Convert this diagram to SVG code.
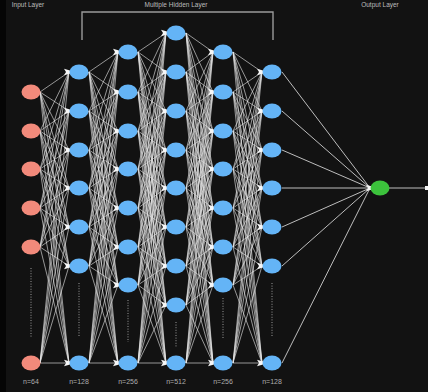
<svg xmlns="http://www.w3.org/2000/svg" xmlns:xlink="http://www.w3.org/1999/xlink" width="428" height="392" viewBox="0 0 428 392">
<style>
.e{stroke:#e6e6e6;stroke-width:1;stroke-opacity:0.62;fill:none}
.eo{stroke:#bdbdbd;stroke-width:1;fill:none}
.in{fill:#f28a7b}
.h{fill:#64b4f6}
.out{fill:#3cc23c}
.dot{stroke:#9a9a9a;stroke-width:1;stroke-dasharray:1 1.6}
.t{font-family:"Liberation Sans",Arial,sans-serif;font-size:6.5px;fill:#bdbdbd;text-anchor:middle}
.n{font-family:"Liberation Sans",Arial,sans-serif;font-size:7px;fill:#adadad;text-anchor:middle}
</style>
<defs>
<path id="ah" d="M-6,-3.2L0,-1.6V1.6L-6,3.2L-4,0Z" fill="#f6f6f6"/>
</defs>
<rect width="428" height="392" fill="#121212"/>
<rect width="6" height="392" fill="#050505"/>
<text class="t" x="28" y="7">Input Layer</text>
<text class="t" x="176" y="7">Multiple Hidden Layer</text>
<text class="t" x="380" y="7">Output Layer</text>
<path d="M82 40V12H273V40" fill="none" stroke="#9a9a9a" stroke-width="1.4"/>
<g id="connectors">
<path class="e" d="M40 92L69 72M40 92L69 111M40 92L69 150M40 92L69 188M40 92L69 227M40 92L69 266M40 92L69 363M40 131L69 72M40 131L69 111M40 131L69 150M40 131L69 188M40 131L69 227M40 131L69 266M40 131L69 363M40 169L69 72M40 169L69 111M40 169L69 150M40 169L69 188M40 169L69 227M40 169L69 266M40 169L69 363M40 208L69 72M40 208L69 111M40 208L69 150M40 208L69 188M40 208L69 227M40 208L69 266M40 208L69 363M40 247L69 72M40 247L69 111M40 247L69 150M40 247L69 188M40 247L69 227M40 247L69 266M40 247L69 363M40 363L69 72M40 363L69 111M40 363L69 150M40 363L69 188M40 363L69 227M40 363L69 266M40 363L69 363"/>
<path class="e" d="M89 72L118 52M89 72L118 92M89 72L118 131M89 72L118 169M89 72L118 208M89 72L118 247M89 72L118 285M89 72L118 363M89 111L118 52M89 111L118 92M89 111L118 131M89 111L118 169M89 111L118 208M89 111L118 247M89 111L118 285M89 111L118 363M89 150L118 52M89 150L118 92M89 150L118 131M89 150L118 169M89 150L118 208M89 150L118 247M89 150L118 285M89 150L118 363M89 188L118 52M89 188L118 92M89 188L118 131M89 188L118 169M89 188L118 208M89 188L118 247M89 188L118 285M89 188L118 363M89 227L118 52M89 227L118 92M89 227L118 131M89 227L118 169M89 227L118 208M89 227L118 247M89 227L118 285M89 227L118 363M89 266L118 52M89 266L118 92M89 266L118 131M89 266L118 169M89 266L118 208M89 266L118 247M89 266L118 285M89 266L118 363M89 363L118 52M89 363L118 92M89 363L118 131M89 363L118 169M89 363L118 208M89 363L118 247M89 363L118 285M89 363L118 363"/>
<path class="e" d="M138 52L166 33M138 52L166 72M138 52L166 111M138 52L166 150M138 52L166 188M138 52L166 227M138 52L166 266M138 52L166 305M138 52L166 363M138 92L166 33M138 92L166 72M138 92L166 111M138 92L166 150M138 92L166 188M138 92L166 227M138 92L166 266M138 92L166 305M138 92L166 363M138 131L166 33M138 131L166 72M138 131L166 111M138 131L166 150M138 131L166 188M138 131L166 227M138 131L166 266M138 131L166 305M138 131L166 363M138 169L166 33M138 169L166 72M138 169L166 111M138 169L166 150M138 169L166 188M138 169L166 227M138 169L166 266M138 169L166 305M138 169L166 363M138 208L166 33M138 208L166 72M138 208L166 111M138 208L166 150M138 208L166 188M138 208L166 227M138 208L166 266M138 208L166 305M138 208L166 363M138 247L166 33M138 247L166 72M138 247L166 111M138 247L166 150M138 247L166 188M138 247L166 227M138 247L166 266M138 247L166 305M138 247L166 363M138 285L166 33M138 285L166 72M138 285L166 111M138 285L166 150M138 285L166 188M138 285L166 227M138 285L166 266M138 285L166 305M138 285L166 363M138 363L166 33M138 363L166 72M138 363L166 111M138 363L166 150M138 363L166 188M138 363L166 227M138 363L166 266M138 363L166 305M138 363L166 363"/>
<path class="e" d="M186 33L213 52M186 33L213 92M186 33L213 131M186 33L213 169M186 33L213 208M186 33L213 247M186 33L213 285M186 33L213 363M186 72L213 52M186 72L213 92M186 72L213 131M186 72L213 169M186 72L213 208M186 72L213 247M186 72L213 285M186 72L213 363M186 111L213 52M186 111L213 92M186 111L213 131M186 111L213 169M186 111L213 208M186 111L213 247M186 111L213 285M186 111L213 363M186 150L213 52M186 150L213 92M186 150L213 131M186 150L213 169M186 150L213 208M186 150L213 247M186 150L213 285M186 150L213 363M186 188L213 52M186 188L213 92M186 188L213 131M186 188L213 169M186 188L213 208M186 188L213 247M186 188L213 285M186 188L213 363M186 227L213 52M186 227L213 92M186 227L213 131M186 227L213 169M186 227L213 208M186 227L213 247M186 227L213 285M186 227L213 363M186 266L213 52M186 266L213 92M186 266L213 131M186 266L213 169M186 266L213 208M186 266L213 247M186 266L213 285M186 266L213 363M186 305L213 52M186 305L213 92M186 305L213 131M186 305L213 169M186 305L213 208M186 305L213 247M186 305L213 285M186 305L213 363M186 363L213 52M186 363L213 92M186 363L213 131M186 363L213 169M186 363L213 208M186 363L213 247M186 363L213 285M186 363L213 363"/>
<path class="e" d="M233 52L262 72M233 52L262 111M233 52L262 150M233 52L262 188M233 52L262 227M233 52L262 266M233 52L262 363M233 92L262 72M233 92L262 111M233 92L262 150M233 92L262 188M233 92L262 227M233 92L262 266M233 92L262 363M233 131L262 72M233 131L262 111M233 131L262 150M233 131L262 188M233 131L262 227M233 131L262 266M233 131L262 363M233 169L262 72M233 169L262 111M233 169L262 150M233 169L262 188M233 169L262 227M233 169L262 266M233 169L262 363M233 208L262 72M233 208L262 111M233 208L262 150M233 208L262 188M233 208L262 227M233 208L262 266M233 208L262 363M233 247L262 72M233 247L262 111M233 247L262 150M233 247L262 188M233 247L262 227M233 247L262 266M233 247L262 363M233 285L262 72M233 285L262 111M233 285L262 150M233 285L262 188M233 285L262 227M233 285L262 266M233 285L262 363M233 363L262 72M233 363L262 111M233 363L262 150M233 363L262 188M233 363L262 227M233 363L262 266M233 363L262 363"/>
<path class="eo" d="M282 72L370 188M282 111L370 188M282 150L370 188M282 188L370 188M282 227L370 188M282 266L370 188M282 363L370 188"/>
<path class="eo" d="M389 188H426"/>
<rect x="425" y="186" width="3" height="4" fill="#f4f4f4"/>
<g id="arrowheads">
<use xlink:href="#ah" x="70" y="72"/><use xlink:href="#ah" x="70" y="111"/><use xlink:href="#ah" x="70" y="150"/><use xlink:href="#ah" x="70" y="188"/><use xlink:href="#ah" x="70" y="227"/><use xlink:href="#ah" x="70" y="266"/><use xlink:href="#ah" x="70" y="363"/>
<use xlink:href="#ah" x="119" y="52"/><use xlink:href="#ah" x="119" y="92"/><use xlink:href="#ah" x="119" y="131"/><use xlink:href="#ah" x="119" y="169"/><use xlink:href="#ah" x="119" y="208"/><use xlink:href="#ah" x="119" y="247"/><use xlink:href="#ah" x="119" y="285"/><use xlink:href="#ah" x="119" y="363"/>
<use xlink:href="#ah" x="167" y="33"/><use xlink:href="#ah" x="167" y="72"/><use xlink:href="#ah" x="167" y="111"/><use xlink:href="#ah" x="167" y="150"/><use xlink:href="#ah" x="167" y="188"/><use xlink:href="#ah" x="167" y="227"/><use xlink:href="#ah" x="167" y="266"/><use xlink:href="#ah" x="167" y="305"/><use xlink:href="#ah" x="167" y="363"/>
<use xlink:href="#ah" x="214" y="52"/><use xlink:href="#ah" x="214" y="92"/><use xlink:href="#ah" x="214" y="131"/><use xlink:href="#ah" x="214" y="169"/><use xlink:href="#ah" x="214" y="208"/><use xlink:href="#ah" x="214" y="247"/><use xlink:href="#ah" x="214" y="285"/><use xlink:href="#ah" x="214" y="363"/>
<use xlink:href="#ah" x="263" y="72"/><use xlink:href="#ah" x="263" y="111"/><use xlink:href="#ah" x="263" y="150"/><use xlink:href="#ah" x="263" y="188"/><use xlink:href="#ah" x="263" y="227"/><use xlink:href="#ah" x="263" y="266"/><use xlink:href="#ah" x="263" y="363"/>
<use xlink:href="#ah" x="372" y="188"/>
</g>
</g>
<g id="dots">
<line class="dot" x1="31" y1="268" x2="31" y2="338"/>
<line class="dot" x1="79" y1="283" x2="79" y2="337"/>
<line class="dot" x1="128" y1="300" x2="128" y2="342"/>
<line class="dot" x1="176" y1="322" x2="176" y2="348"/>
<line class="dot" x1="223" y1="298" x2="223" y2="338"/>
<line class="dot" x1="272" y1="283" x2="272" y2="337"/>
</g>
<g id="input-layer">
<g id="in1"><ellipse class="in" cx="31" cy="92" rx="9.5" ry="7.5"/></g>
<g id="in2"><ellipse class="in" cx="31" cy="131" rx="9.5" ry="7.5"/></g>
<g id="in3"><ellipse class="in" cx="31" cy="169" rx="9.5" ry="7.5"/></g>
<g id="in4"><ellipse class="in" cx="31" cy="208" rx="9.5" ry="7.5"/></g>
<g id="in5"><ellipse class="in" cx="31" cy="247" rx="9.5" ry="7.5"/></g>
<g id="in6"><ellipse class="in" cx="31" cy="363" rx="9.5" ry="7.5"/></g>
</g>
<g id="hidden1">
<g id="h1a"><ellipse class="h" cx="79" cy="72" rx="9.5" ry="7.5"/></g>
<g id="h1b"><ellipse class="h" cx="79" cy="111" rx="9.5" ry="7.5"/></g>
<g id="h1c"><ellipse class="h" cx="79" cy="150" rx="9.5" ry="7.5"/></g>
<g id="h1d"><ellipse class="h" cx="79" cy="188" rx="9.5" ry="7.5"/></g>
<g id="h1e"><ellipse class="h" cx="79" cy="227" rx="9.5" ry="7.5"/></g>
<g id="h1f"><ellipse class="h" cx="79" cy="266" rx="9.5" ry="7.5"/></g>
<g id="h1g"><ellipse class="h" cx="79" cy="363" rx="9.5" ry="7.5"/></g>
</g>
<g id="hidden2">
<g id="h2a"><ellipse class="h" cx="128" cy="52" rx="9.5" ry="7.5"/></g>
<g id="h2b"><ellipse class="h" cx="128" cy="92" rx="9.5" ry="7.5"/></g>
<g id="h2c"><ellipse class="h" cx="128" cy="131" rx="9.5" ry="7.5"/></g>
<g id="h2d"><ellipse class="h" cx="128" cy="169" rx="9.5" ry="7.5"/></g>
<g id="h2e"><ellipse class="h" cx="128" cy="208" rx="9.5" ry="7.5"/></g>
<g id="h2f"><ellipse class="h" cx="128" cy="247" rx="9.5" ry="7.5"/></g>
<g id="h2g"><ellipse class="h" cx="128" cy="285" rx="9.5" ry="7.5"/></g>
<g id="h2h"><ellipse class="h" cx="128" cy="363" rx="9.5" ry="7.5"/></g>
</g>
<g id="hidden3">
<g id="h3a"><ellipse class="h" cx="176" cy="33" rx="9.5" ry="7.5"/></g>
<g id="h3b"><ellipse class="h" cx="176" cy="72" rx="9.5" ry="7.5"/></g>
<g id="h3c"><ellipse class="h" cx="176" cy="111" rx="9.5" ry="7.5"/></g>
<g id="h3d"><ellipse class="h" cx="176" cy="150" rx="9.5" ry="7.5"/></g>
<g id="h3e"><ellipse class="h" cx="176" cy="188" rx="9.5" ry="7.5"/></g>
<g id="h3f"><ellipse class="h" cx="176" cy="227" rx="9.5" ry="7.5"/></g>
<g id="h3g"><ellipse class="h" cx="176" cy="266" rx="9.5" ry="7.5"/></g>
<g id="h3h"><ellipse class="h" cx="176" cy="305" rx="9.5" ry="7.5"/></g>
<g id="h3i"><ellipse class="h" cx="176" cy="363" rx="9.5" ry="7.5"/></g>
</g>
<g id="hidden4">
<g id="h4a"><ellipse class="h" cx="223" cy="52" rx="9.5" ry="7.5"/></g>
<g id="h4b"><ellipse class="h" cx="223" cy="92" rx="9.5" ry="7.5"/></g>
<g id="h4c"><ellipse class="h" cx="223" cy="131" rx="9.5" ry="7.5"/></g>
<g id="h4d"><ellipse class="h" cx="223" cy="169" rx="9.5" ry="7.5"/></g>
<g id="h4e"><ellipse class="h" cx="223" cy="208" rx="9.5" ry="7.5"/></g>
<g id="h4f"><ellipse class="h" cx="223" cy="247" rx="9.5" ry="7.5"/></g>
<g id="h4g"><ellipse class="h" cx="223" cy="285" rx="9.5" ry="7.5"/></g>
<g id="h4h"><ellipse class="h" cx="223" cy="363" rx="9.5" ry="7.5"/></g>
</g>
<g id="hidden5">
<g id="h5a"><ellipse class="h" cx="272" cy="72" rx="9.5" ry="7.5"/></g>
<g id="h5b"><ellipse class="h" cx="272" cy="111" rx="9.5" ry="7.5"/></g>
<g id="h5c"><ellipse class="h" cx="272" cy="150" rx="9.5" ry="7.5"/></g>
<g id="h5d"><ellipse class="h" cx="272" cy="188" rx="9.5" ry="7.5"/></g>
<g id="h5e"><ellipse class="h" cx="272" cy="227" rx="9.5" ry="7.5"/></g>
<g id="h5f"><ellipse class="h" cx="272" cy="266" rx="9.5" ry="7.5"/></g>
<g id="h5g"><ellipse class="h" cx="272" cy="363" rx="9.5" ry="7.5"/></g>
</g>
<g id="output"><ellipse class="out" cx="380" cy="188" rx="9.5" ry="7.5"/></g>
<g id="labels">
<text class="n" x="31" y="384">n=64</text>
<text class="n" x="79" y="384">n=128</text>
<text class="n" x="128" y="384">n=256</text>
<text class="n" x="176" y="384">n=512</text>
<text class="n" x="223" y="384">n=256</text>
<text class="n" x="272" y="384">n=128</text>
</g>
</svg>
